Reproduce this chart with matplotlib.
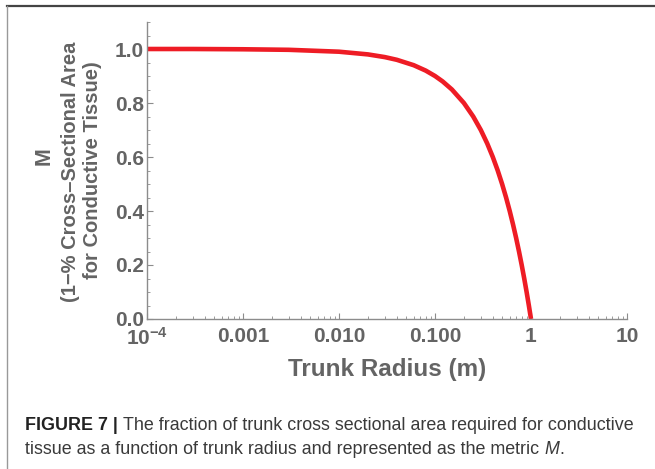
import matplotlib
matplotlib.use("Agg")
import matplotlib.pyplot as plt
from matplotlib.ticker import FixedLocator, LogLocator, NullFormatter
from matplotlib.lines import Line2D

# Data
radius = [1e-4, 3e-4, 1e-3, 3e-3, 0.01, 0.02, 0.03, 0.04, 0.06, 0.08, 0.10, 0.12,
          0.15, 0.20, 0.25, 0.30, 0.35, 0.40, 0.45, 0.50, 0.55, 0.60, 0.65, 0.70,
          0.75, 0.80, 0.85, 0.90, 0.95, 1.0]
metric_M = [1.0, 1.0, 0.999, 0.997, 0.99, 0.98, 0.97, 0.96, 0.94, 0.92, 0.90, 0.88,
            0.85, 0.80, 0.75, 0.70, 0.65, 0.60, 0.55, 0.50, 0.45, 0.40, 0.35, 0.30,
            0.25, 0.20, 0.15, 0.10, 0.05, 0.0]
x_ticks = [1e-4, 1e-3, 1e-2, 1e-1, 1, 10]
x_tick_labels = [r"$\mathbf{10^{-4}}$", "0.001", "0.010", "0.100", "1", "10"]
y_ticks = [0.0, 0.2, 0.4, 0.6, 0.8, 1.0]
y_tick_labels = ["0.0", "0.2", "0.4", "0.6", "0.8", "1.0"]

plt.rcParams["font.family"] = ["Liberation Sans", "DejaVu Sans"]
plt.rcParams["mathtext.fontset"] = "custom"
plt.rcParams["mathtext.rm"] = "Liberation Sans"
plt.rcParams["mathtext.bf"] = "Liberation Sans:bold"

W, H = 655, 469
fig = plt.figure(figsize=(W / 100, H / 100), dpi=100)
fig.patch.set_facecolor("white")

ax = fig.add_axes([147 / W, (H - 319) / H, 480 / W, 297 / H])
ax.plot(radius, metric_M, color="#ee1c25", lw=3.3, solid_capstyle="butt", clip_on=False)
ax.set_xscale("log")
ax.set_xlim(1e-4, 10)
ax.set_ylim(0, 1.1)

axis_col = "#8c8c8c"
lab_col = "#646464"
for s in ["top", "right"]:
    ax.spines[s].set_visible(False)
for s in ["left", "bottom"]:
    ax.spines[s].set_color(axis_col)
    ax.spines[s].set_linewidth(1.0)

ax.xaxis.set_major_locator(FixedLocator(x_ticks))
ax.set_xticklabels(x_tick_labels)
ax.xaxis.set_minor_locator(LogLocator(base=10, subs=range(2, 10)))
ax.xaxis.set_minor_formatter(NullFormatter())
ax.yaxis.set_major_locator(FixedLocator(y_ticks))
ax.set_yticklabels(y_tick_labels)
ax.yaxis.set_minor_locator(FixedLocator([0.05, 0.1, 0.15, 0.25, 0.3, 0.35, 0.45, 0.5, 0.55,
                                         0.65, 0.7, 0.75, 0.85, 0.9, 0.95, 1.05, 1.1]))
ax.tick_params(which="major", direction="in", length=4.5, width=0.8, color=axis_col,
               labelsize=15, labelcolor=lab_col)
ax.tick_params(which="minor", direction="in", length=2.5, width=0.6, color=axis_col)
ax.tick_params(axis="x", which="major", pad=6)
ax.tick_params(axis="y", which="major", pad=2)
for t in ax.get_xticklabels() + ax.get_yticklabels():
    t.set_fontweight("bold")

ax.set_xlabel("Trunk Radius (m)", fontsize=17.5, fontweight="bold", color=lab_col, labelpad=6)

# y-axis label (three lines)
fig.text(44 / W, 1 - 156 / H, "M", rotation=90, fontsize=15.5, fontweight="bold",
         color=lab_col, ha="center", va="center")
fig.text(70 / W, 1 - 172 / H, "(1\u2212% Cross\u2013Sectional Area", rotation=90, fontsize=14.5,
         fontweight="bold", color=lab_col, ha="center", va="center")
fig.text(93 / W, 1 - 170 / H, "for Conductive Tissue)", rotation=90, fontsize=14.5,
         fontweight="bold", color=lab_col, ha="center", va="center")

# frame lines
fig.add_artist(Line2D([7 / W, 1], [1 - 6.5 / H, 1 - 6.5 / H], color="#444444", lw=1.6,
                      transform=fig.transFigure))
fig.add_artist(Line2D([7 / W, 7 / W], [0, 1 - 6.5 / H], color="#999999", lw=1.0,
                      transform=fig.transFigure))

# caption
cap_col = "#3a3a3a"
cap_fs = 12.9
fig.canvas.draw()
r = fig.canvas.get_renderer()
t1 = fig.text(25 / W, 1 - 425 / H, "FIGURE 7 | ", fontsize=cap_fs, fontweight="bold",
              color="#222222", va="center", ha="left")
bb = t1.get_window_extent(r)
fig.text(bb.x1 / W, 1 - 425 / H, "The fraction of trunk cross sectional area required for conductive",
         fontsize=cap_fs, color=cap_col, va="center", ha="left")
t3 = fig.text(25 / W, 1 - 449 / H, "tissue as a function of trunk radius and represented as the metric ",
              fontsize=cap_fs, color=cap_col, va="center", ha="left")
bb3 = t3.get_window_extent(r)
tm = fig.text(bb3.x1 / W, 1 - 449 / H, "M", fontsize=cap_fs, style="italic", color=cap_col,
              va="center", ha="left")
bbm = tm.get_window_extent(r)
fig.text(bbm.x1 / W, 1 - 449 / H, ".", fontsize=cap_fs, color=cap_col, va="center", ha="left")

fig.savefig("out.png", dpi=100, facecolor="white")
